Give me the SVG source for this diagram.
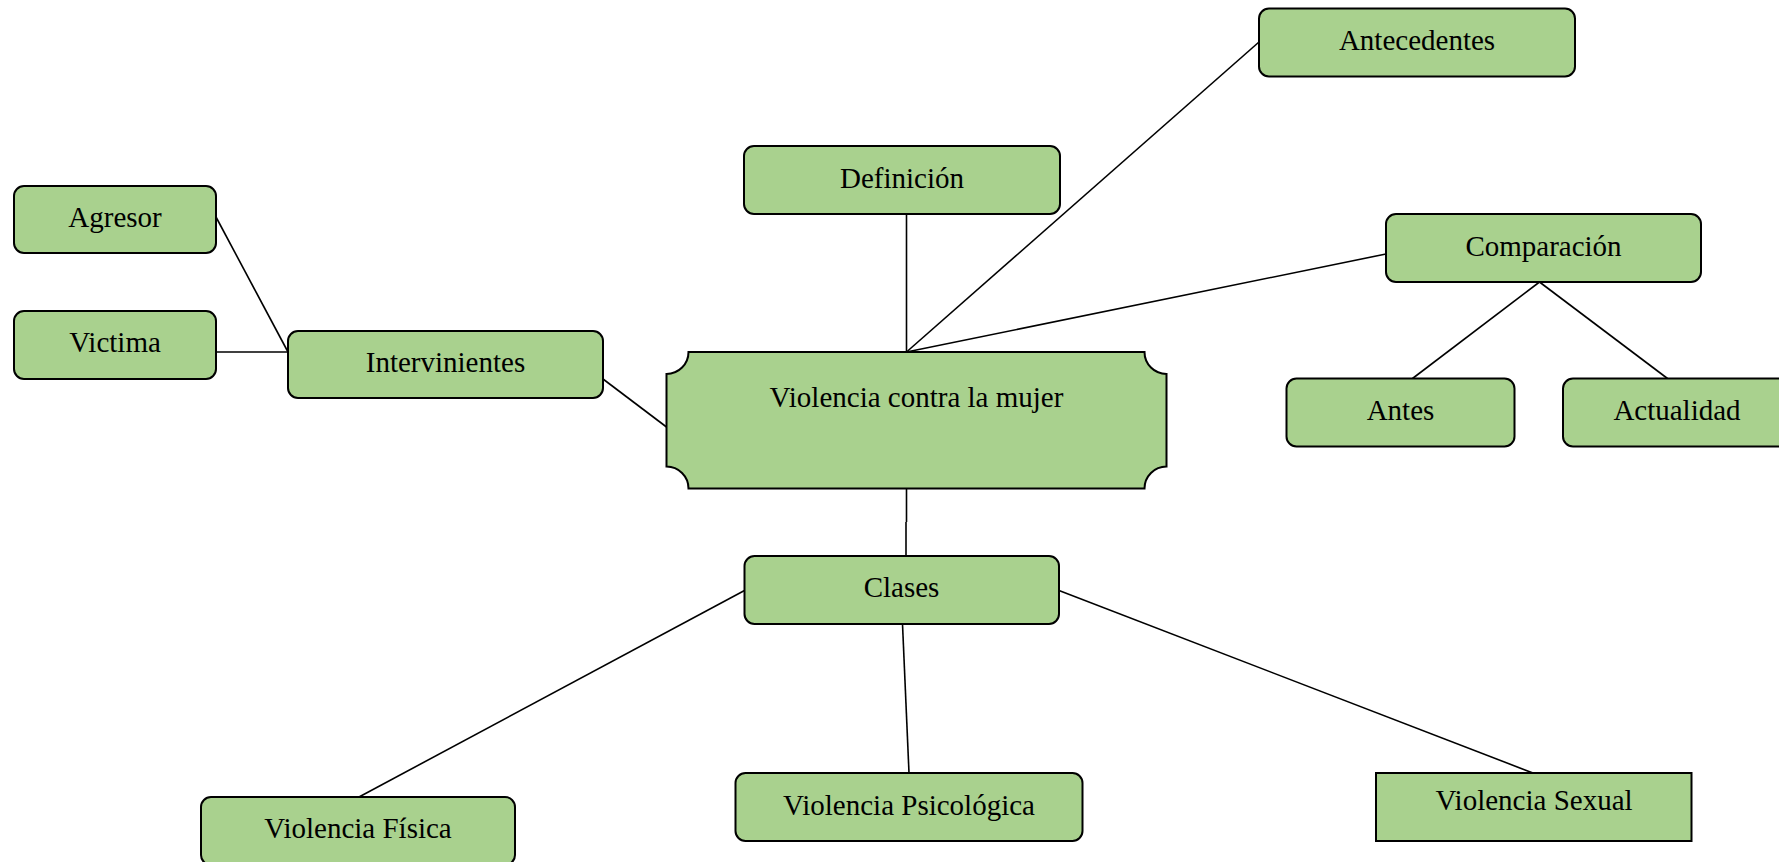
<svg xmlns="http://www.w3.org/2000/svg" width="1779" height="862" viewBox="0 0 1779 862">
<style>
.box{fill:#A9D18E;stroke:#000;stroke-width:2}
.lbl{font-family:"Liberation Serif","Times New Roman",serif;font-size:29px;fill:#000;text-anchor:middle}
.con line{stroke:#000;stroke-width:1.6}
</style>
<rect width="1779" height="862" fill="#fff"/>
<g id="connectors" class="con">
<line x1="216" y1="217" x2="288" y2="352"/>
<line x1="216" y1="352" x2="288" y2="352"/>
<line x1="603" y1="379" x2="666.5" y2="427"/>
<line x1="906.5" y1="214" x2="906.5" y2="352"/>
<line x1="906.5" y1="352" x2="1259" y2="42"/>
<line x1="906.5" y1="352" x2="1386" y2="254"/>
<line x1="1539.5" y1="282" x2="1412.5" y2="378.5"/>
<line x1="1539.5" y1="282" x2="1667.5" y2="378.5"/>
<line x1="906.5" y1="488.5" x2="906.5" y2="522"/>
<line x1="906" y1="522" x2="906" y2="556"/>
<line x1="744.5" y1="590.5" x2="359" y2="797"/>
<line x1="902.5" y1="624" x2="909" y2="773"/>
<line x1="1059" y1="590.5" x2="1533" y2="773"/>
</g>
<g id="main">
<path class="box" d="M688.5,352 H1144.5 A22,22 0 0 0 1166.5,374 V466.5 A22,22 0 0 0 1144.5,488.5 H688.5 A22,22 0 0 0 666.5,466.5 V374 A22,22 0 0 0 688.5,352 Z"/>
<text class="lbl" x="916.5" y="407">Violencia contra la mujer</text>
</g>
<g id="antecedentes">
<rect class="box" x="1259" y="8.5" width="316" height="68" rx="10"/>
<text class="lbl" x="1417" y="50">Antecedentes</text>
</g>
<g id="definicion">
<rect class="box" x="744" y="146" width="316" height="68" rx="10"/>
<text class="lbl" x="902" y="188">Definición</text>
</g>
<g id="agresor">
<rect class="box" x="14" y="186" width="202" height="67" rx="10"/>
<text class="lbl" x="115" y="226.5">Agresor</text>
</g>
<g id="victima">
<rect class="box" x="14" y="311" width="202" height="68" rx="10"/>
<text class="lbl" x="115" y="351.5">Victima</text>
</g>
<g id="intervinientes">
<rect class="box" x="288" y="331" width="315" height="67" rx="10"/>
<text class="lbl" x="445.5" y="372">Intervinientes</text>
</g>
<g id="comparacion">
<rect class="box" x="1386" y="214" width="315" height="68" rx="10"/>
<text class="lbl" x="1543.5" y="256">Comparación</text>
</g>
<g id="antes">
<rect class="box" x="1286.5" y="378.5" width="228" height="68" rx="10"/>
<text class="lbl" x="1400.5" y="419.5">Antes</text>
</g>
<g id="actualidad">
<rect class="box" x="1563" y="378.5" width="228" height="68" rx="10"/>
<text class="lbl" x="1677" y="419.5">Actualidad</text>
</g>
<g id="clases">
<rect class="box" x="744.5" y="556" width="314.5" height="68" rx="10"/>
<text class="lbl" x="901.5" y="597">Clases</text>
</g>
<g id="fisica">
<rect class="box" x="201" y="797" width="314" height="68" rx="10"/>
<text class="lbl" x="358" y="837.5">Violencia Física</text>
</g>
<g id="psicologica">
<rect class="box" x="735.5" y="773" width="347" height="68" rx="10"/>
<text class="lbl" x="909" y="815">Violencia Psicológica</text>
</g>
<g id="sexual">
<rect class="box" x="1376" y="773" width="315.5" height="68"/>
<text class="lbl" x="1534" y="810">Violencia Sexual</text>
</g>
</svg>
